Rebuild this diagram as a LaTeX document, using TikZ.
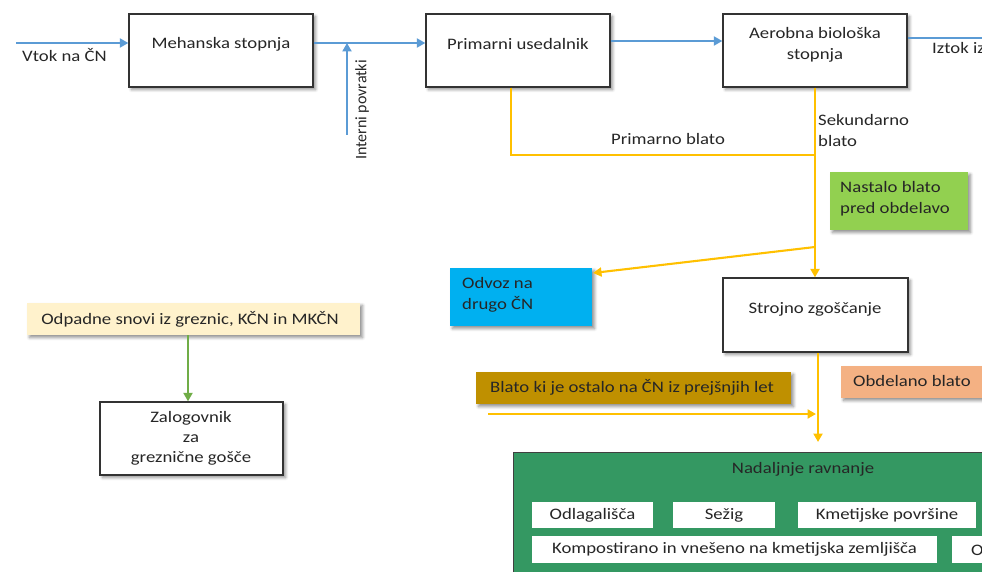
\documentclass[tikz,border=0pt]{standalone}
\usepackage{fontspec}
\setmainfont{Carlito}[FakeStretch=1.17]
\newfontfamily\plainfont{Carlito}
\usetikzlibrary{arrows.meta,shadows.blur}
\definecolor{txt}{HTML}{262626}
\definecolor{lineblue}{HTML}{5B9BD5}
\definecolor{lineyel}{HTML}{FFC000}
\definecolor{linegreen}{HTML}{70AD47}
\definecolor{cgreen}{HTML}{92D050}
\definecolor{ccyan}{HTML}{00B0F0}
\definecolor{ccream}{HTML}{FFF2CC}
\definecolor{cgold}{HTML}{BF9000}
\definecolor{csalmon}{HTML}{F4B183}
\definecolor{cdeep}{HTML}{349862}
\tikzset{
  every node/.style={font=\fontsize{16}{21}\selectfont, text=txt},
  shad/.style={blur shadow={shadow xshift=2.5pt, shadow yshift=-2.5pt, shadow blur steps=6, shadow blur radius=3pt, shadow opacity=45}},
  box/.style={draw=black!80, line width=1.3pt, fill=white, inner sep=0pt, shad},
  cbox/.style={draw=none, inner sep=0pt, shad},
  wbox/.style={draw=none, fill=white, inner sep=0pt},
  lbl/.style={inner sep=0pt, align=center},
  lbll/.style={inner sep=0pt, align=left, anchor=west},
  bl/.style={draw=lineblue, line width=2.1pt},
  yl/.style={draw=lineyel, line width=2.1pt},
  gl/.style={draw=linegreen, line width=2.1pt},
  tip/.style={-{Triangle[length=8.5pt,width=9pt]}},
}
\begin{document}
\begin{tikzpicture}[x=1pt,y=-1pt]
\useasboundingbox (0,0) rectangle (982,572);
\clip (0,0) rectangle (982,572);

% ---------- boxes ----------
\node[box, minimum width=184pt, minimum height=73pt] (meh) at (221,50.5) {};
\node[box, minimum width=184pt, minimum height=73pt] (prim) at (518,50.5) {};
\node[box, minimum width=184pt, minimum height=73pt] (aer) at (815,50.5) {};
\node[box, minimum width=185pt, minimum height=74pt] (stroj) at (815.5,315) {};
\node[box, minimum width=183pt, minimum height=73pt] (zalog) at (191.5,438.5) {};
\node[cbox, fill=cgreen, minimum width=138pt, minimum height=58pt] (nast) at (899,201) {};
\node[cbox, fill=ccyan, minimum width=142pt, minimum height=58pt] (odvoz) at (521,297) {};
\node[cbox, fill=ccream, minimum width=333pt, minimum height=32pt] (odp) at (193.5,319) {};
\node[cbox, fill=cgold, minimum width=315pt, minimum height=32pt] (prej) at (633.5,388) {};
\node[cbox, fill=csalmon, minimum width=160pt, minimum height=32pt] (obd) at (921,382) {};
\node[draw=black!75, line width=1pt, fill=cdeep, inner sep=0pt, anchor=north west,
      minimum width=500pt, minimum height=150pt] (nad) at (513,452) {};
\node[wbox, minimum width=121pt, minimum height=26pt] (odl) at (592.5,515) {Odlagališča};
\node[wbox, minimum width=102pt, minimum height=26pt] (sez) at (724,515) {Sežig};
\node[wbox, minimum width=178pt, minimum height=26pt] (kmet) at (887,515) {Kmetijske površine};
\node[wbox, minimum width=405pt, minimum height=27pt] (komp) at (734.5,549.5) {Kompostirano in vnešeno na kmetijska zemljišča};
\node[wbox, minimum width=108pt, minimum height=27pt, anchor=west] (ost) at (952,549.5) {};

% ---------- labels ----------
\node[lbl] (mehT) at (221,44) {Mehanska stopnja};
\node[lbl] (primT) at (518,44) {Primarni usedalnik};
\node[lbl] (aerT) at (815,45) {Aerobna biološka\\stopnja};
\node[lbl] (strojT) at (815,309) {Strojno zgoščanje};
\node[lbl] (zalogT) at (191,438) {Zalogovnik\\[-1pt]za\\[-1pt]greznične gošče};
\node[lbll] (nastT) at (840,198.5) {Nastalo blato\\pred obdelavo};
\node[lbll] (odvozT) at (462,295) {Odvoz na\\drugo ČN};
\node[lbl] (odpT) at (190,319) {Odpadne snovi iz greznic, KČN in MKČN};
\node[lbl] (prejT) at (632,387) {Blato ki je ostalo na ČN iz prejšnjih let};
\node[lbll] (obdT) at (853,381) {Obdelano blato};
\node[lbl] (nadT) at (803,469) {Nadaljnje ravnanje};
\node[lbll] (ostT) at (971,549.5) {Ostalo};
\node[lbll] (vtokT) at (22,55) {Vtok na ČN};
\node[lbll] (iztokT) at (932,47) {Iztok iz ČN};
\node[lbl, rotate=90, font=\plainfont\fontsize{16}{21}\selectfont] (ipT) at (362,110) {Interni povratki};
\node[lbl] (pbT) at (668,139) {Primarno blato};
\node[lbll] (sbT) at (818,130.5) {Sekundarno\\blato};

% ---------- coordinates ----------
\coordinate (vin) at (16,43);
\coordinate (ip) at (347,135);
\coordinate (r2) at (0,41);
\coordinate (out) at (995,38);
\coordinate (pb) at (511,155);
\coordinate (jn) at (815,155);
\coordinate (jd) at (815,247);
\coordinate (od) at (593,273);
\coordinate (sd) at (818,442);
\coordinate (bp0) at (488,414);
\coordinate (bp1) at (816,414);

% ---------- connectors ----------
\draw[bl, tip] (vin) -- (vin -| meh.west);
\draw[bl, tip] (vin -| meh.east) -- (vin -| prim.west);
\draw[bl, tip] (ip) -- (ip |- vin);
\draw[bl, tip] (r2 -| prim.east) -- (r2 -| aer.west);
\draw[bl] (out -| aer.east) -- (out);
\draw[yl] (prim.south -| pb) -- (pb) -- (jn);
\draw[yl, tip] (aer.south -| jn) -- (stroj.north -| jn);
\draw[yl, tip] (jd) -- (od);
\draw[yl, tip] (stroj.south -| sd) -- (sd);
\draw[yl, tip] (bp0) -- (bp1);
\draw[gl, tip] (odp.south -| 188,0) -- (zalog.north -| 188,0);
\end{tikzpicture}
\end{document}
